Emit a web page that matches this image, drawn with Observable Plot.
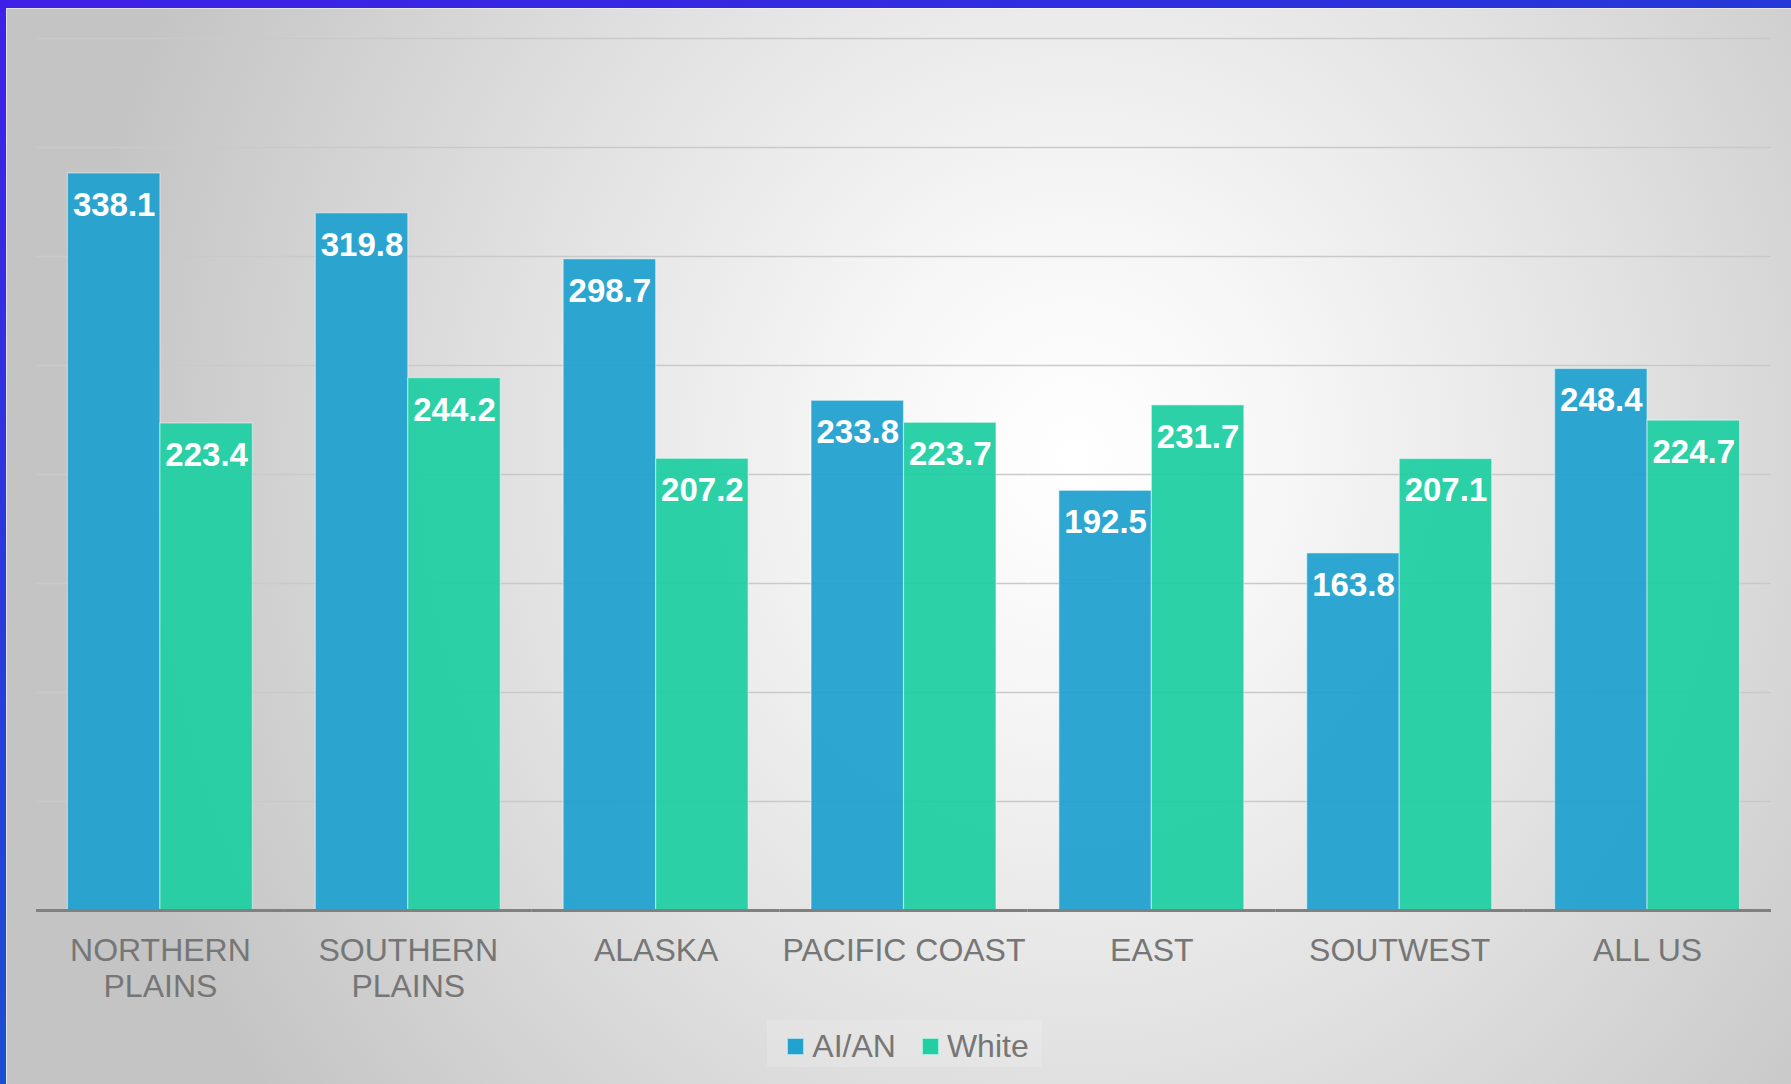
<!DOCTYPE html>
<html>
<head>
<meta charset="utf-8">
<script src="https://cdn.jsdelivr.net/npm/d3@7"></script>
<script src="https://cdn.jsdelivr.net/npm/@observablehq/plot@0.6"></script>
<style>
  html, body { margin: 0; padding: 0; }
  body { width: 1791px; height: 1084px; overflow: hidden; font-family: "Liberation Sans", Arial, sans-serif; }
  #page {
    position: relative; width: 1791px; height: 1084px; overflow: hidden;
    background: radial-gradient(ellipse 56% 100% at 60% 42%, #ffffff 0%, #f6f6f6 22%, #e2e2e2 55%, #c4c4c4 100%);
  }
  #chart { position: absolute; left: 0; top: 0; }
  #borderTop { position: absolute; left: 0; top: 0; width: 1791px; height: 8px; background: linear-gradient(to right, #3f1fe8, #2538d8); }
  #borderLeft { position: absolute; left: 0; top: 0; width: 6px; height: 1084px; background: linear-gradient(to bottom, #3f1fe8, #1a4fd0); }
  #innerLine { position: absolute; left: 6px; top: 8px; right: 0; bottom: 0; border-top: 1px solid rgba(255,255,255,0.5); border-left: 1px solid rgba(255,255,255,0.5); }
  #legendBox { position: absolute; left: 767px; top: 1020px; width: 275px; height: 47px; background: rgba(255,255,255,0.15); }
  #legend { position: absolute; left: 0; width: 1816px; top: 1026px; height: 40px; display: flex; justify-content: center; align-items: center; gap: 26px; }
  .item { display: flex; align-items: center; gap: 8px; font-size: 32px; color: #767676; }
  .swatch { width: 15px; height: 15px; border: 1px solid rgba(255,255,255,0.6); }
</style>
</head>
<body>
<div id="page">
  <div id="legendBox"></div>
  <div id="chart"></div>
  <div id="legend"></div>
  <div id="innerLine"></div>
  <div id="borderTop"></div>
  <div id="borderLeft"></div>
</div>
<script>
const categories = ["NORTHERN\nPLAINS", "SOUTHERN\nPLAINS", "ALASKA", "PACIFIC COAST", "EAST", "SOUTWEST", "ALL US"];
const series = ["AI/AN", "White"];
const aianValues = [338.1, 319.8, 298.7, 233.8, 192.5, 163.8, 248.4];
const whiteValues = [223.4, 244.2, 207.2, 223.7, 231.7, 207.1, 224.7];
const seriesColors = ["#22a2cf", "#22cfa3"];
const gridValues = [50, 100, 150, 200, 250, 300, 350, 400];

const rows = categories.flatMap((c, i) => [
  {category: c, series: series[0], value: aianValues[i]},
  {category: c, series: series[1], value: whiteValues[i]}
]);

const chart = Plot.plot({
  width: 1791,
  height: 1010,
  marginTop: 38,
  marginBottom: 100,
  marginLeft: 36,
  marginRight: 20,
  style: {background: "transparent", fontFamily: "'Liberation Sans', Arial, sans-serif"},
  fx: {domain: categories, padding: 0, round: false, label: null},
  x: {domain: series, paddingInner: 0, paddingOuter: 0.34, round: false, axis: null},
  y: {domain: [0, 400], axis: null},
  color: {domain: series, range: seriesColors},
  marks: [
    Plot.ruleY(gridValues, {stroke: "#c9c9c9", strokeWidth: 1.4}),
    Plot.barY(rows, {fx: "category", x: "series", y: "value", fill: "series", fillOpacity: 0.95,
      stroke: "white", strokeOpacity: 0.45, strokeWidth: 1.2, inset: 0}),
    Plot.text(rows, {fx: "category", x: "series", y: "value", text: d => d.value.toFixed(1),
      lineAnchor: "top", dy: 19, fill: "white", fontSize: 33, fontWeight: "bold"}),
    Plot.ruleY([0], {stroke: "#808080", strokeWidth: 3}),
    Plot.axisFx({anchor: "bottom", tickSize: 0, tickPadding: 25, fontSize: 32, fill: "#767676",
      lineHeight: 1.12, label: null})
  ]
});
document.getElementById("chart").appendChild(chart);

const legend = document.getElementById("legend");
series.forEach((s, i) => {
  const item = document.createElement("div");
  item.className = "item";
  const sw = document.createElement("span");
  sw.className = "swatch";
  sw.style.background = seriesColors[i];
  const label = document.createElement("span");
  label.textContent = s;
  item.appendChild(sw);
  item.appendChild(label);
  legend.appendChild(item);
});
</script>
</body>
</html>
